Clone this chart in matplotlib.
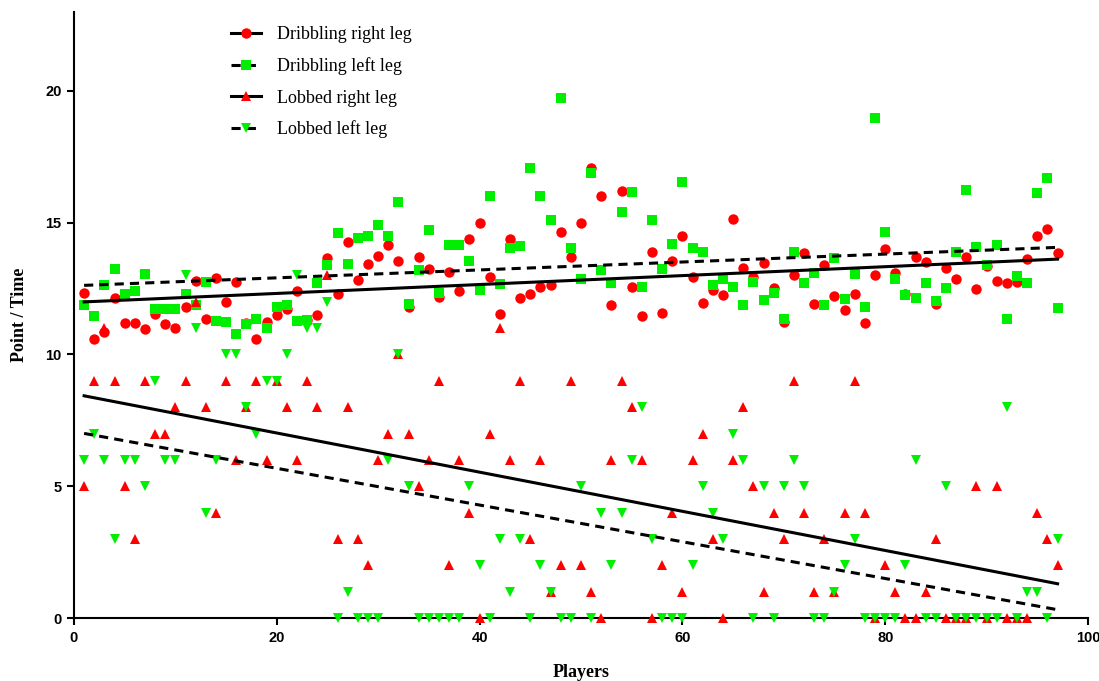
import numpy as np
import matplotlib
matplotlib.use("Agg")
import matplotlib.pyplot as plt
from matplotlib.lines import Line2D

players = np.arange(1, 98)

dribbling_right = [
    12.32, 10.6, 10.86, 12.15, 11.2, 11.2, 10.98, 11.52, 11.17, 11.01,
    11.81, 12.79, 11.36, 12.92, 12.0, 12.75, 11.2, 10.57, 11.24, 11.5,
    11.71, 12.41, 11.3, 11.51, 13.65, 12.28, 14.25, 12.81, 13.42, 13.74,
    14.16, 13.55, 11.8, 13.7, 13.23, 12.19, 13.14, 12.41, 14.4, 14.98,
    12.94, 11.52, 14.37, 12.13, 12.28, 12.56, 12.64, 14.66, 13.7, 14.98,
    17.06, 16.02, 11.88, 16.2, 12.57, 11.46, 13.9, 11.58, 13.55, 14.5,
    12.95, 11.97, 12.45, 12.26, 15.16, 13.27, 12.95, 13.46, 12.54, 11.23,
    13.0, 13.84, 11.9, 13.4, 12.22, 11.67, 12.31, 11.2, 13.0, 14.02,
    13.08, 12.28, 13.7, 13.5, 11.93, 13.3, 12.88, 13.71, 12.47, 13.35,
    12.79, 12.7, 12.76, 13.64, 14.48, 14.78, 13.87]

dribbling_left = [
    11.86, 11.46, 12.64, 13.26, 12.28, 12.41, 13.07, 11.71, 11.74, 11.74,
    12.31, 11.86, 12.75, 11.27, 11.24, 10.76, 11.17, 11.33, 11.01, 11.8,
    11.86, 11.27, 11.3, 12.72, 13.4, 14.6, 13.45, 14.41, 14.5, 14.92,
    14.51, 15.77, 11.9, 13.19, 14.73, 12.32, 14.14, 14.14, 13.55, 12.45,
    16.0, 12.66, 14.03, 14.1, 17.06, 16.02, 15.1, 19.72, 14.06, 12.85,
    16.88, 13.21, 12.7, 15.39, 16.15, 12.56, 15.1, 13.23, 14.2, 16.55,
    14.06, 13.9, 12.62, 12.85, 12.57, 11.86, 12.75, 12.05, 12.34, 11.33,
    13.9, 12.7, 13.1, 11.86, 13.67, 12.09, 13.07, 11.81, 18.96, 14.63,
    12.88, 12.26, 12.13, 12.7, 12.03, 12.53, 13.89, 16.25, 14.08, 13.4,
    14.16, 11.33, 12.98, 12.7, 16.12, 16.69, 11.77]

lobbed_right = [
    5, 9, 11, 9, 5, 3, 9, 7, 7, 8, 9, 12, 8, 4, 9, 6, 8, 9, 6, 9,
    8, 6, 9, 8, 13, 3, 8, 3, 2, 6, 7, 10, 7, 5, 6, 9, 2, 6, 4, 0,
    7, 11, 6, 9, 3, 6, 1, 2, 9, 2, 1, 0, 6, 9, 8, 6, 0, 2, 4, 1,
    6, 7, 3, 0, 6, 8, 5, 1, 4, 3, 9, 4, 1, 3, 1, 4, 9, 4, 0, 2,
    1, 0, 0, 1, 3, 0, 0, 0, 5, 0, 5, 0, 0, 0, 4, 3, 2]

lobbed_left = [
    6, 7, 6, 3, 6, 6, 5, 9, 6, 6, 13, 11, 4, 6, 10, 10, 8, 7, 9, 9,
    10, 13, 11, 11, 12, 0, 1, 0, 0, 0, 6, 10, 5, 0, 0, 0, 0, 0, 5, 2,
    0, 3, 1, 3, 0, 2, 1, 0, 0, 5, 0, 4, 2, 4, 6, 8, 3, 0, 0, 0,
    2, 5, 4, 3, 7, 6, 0, 5, 0, 5, 6, 5, 0, 0, 1, 2, 3, 0, 0, 0,
    0, 2, 6, 0, 0, 5, 0, 0, 0, 0, 0, 8, 0, 1, 1, 0, 3]

labels = ["Dribbling right leg", "Dribbling left leg",
          "Lobbed right leg", "Lobbed left leg"]

RED = "#ff0000"
GREEN = "#00ee00"

fig = plt.figure(figsize=(10.99, 6.81), dpi=100)
ax = fig.add_axes([0.0673, 0.0925, 0.9227, 0.89])

series = [
    (dribbling_right, "o", RED, 7.5, "-"),
    (dribbling_left, "s", GREEN, 7.0, (0, (3, 2))),
    (lobbed_right, "^", RED, 7.5, "-"),
    (lobbed_left, "v", GREEN, 7.5, (0, (3, 2))),
]

for vals, mk, col, ms, ls in series:
    ax.plot(players, vals, linestyle="none", marker=mk, color=col,
            markersize=ms, markeredgewidth=0, clip_on=False, zorder=3)

# linear fits drawn over the data range
for vals, mk, col, ms, ls in series:
    k, b = np.polyfit(players, vals, 1)
    xs = np.array([players[0], players[-1]])
    ax.plot(xs, k * xs + b, color="black", linewidth=2.2, linestyle=ls, zorder=4)

ax.set_xlim(0, 100)
ax.set_ylim(0, 23)
ax.set_xticks([0, 20, 40, 60, 80, 100])
ax.set_yticks([0, 5, 10, 15, 20])
for s in ["top", "right"]:
    ax.spines[s].set_visible(False)
for s in ["left", "bottom"]:
    ax.spines[s].set_linewidth(1.5)
ax.tick_params(direction="out", length=5, width=1.5, pad=4)
for t in ax.get_xticklabels() + ax.get_yticklabels():
    t.set_fontfamily("Liberation Sans")
    t.set_fontweight("bold")
    t.set_fontsize(10.5)

ax.set_xlabel("Players", fontfamily="Liberation Serif", fontweight="bold",
              fontsize=13, labelpad=14)
ax.set_ylabel("Point / Time", fontfamily="Liberation Serif", fontweight="bold",
              fontsize=13, labelpad=12)

handles = []
for vals, mk, col, ms, ls in series:
    handles.append(Line2D([0], [0], color="black", linewidth=2.2, linestyle=ls,
                          marker=mk, markerfacecolor=col, markeredgewidth=0,
                          markersize=ms))
leg = fig.legend(handles, labels, loc="upper left",
                 bbox_to_anchor=(0.195, 0.985), frameon=False,
                 prop={"family": "Liberation Serif", "size": 13},
                 handlelength=1.7, handletextpad=0.9, labelspacing=0.78)

fig.savefig("out.png", dpi=100)
